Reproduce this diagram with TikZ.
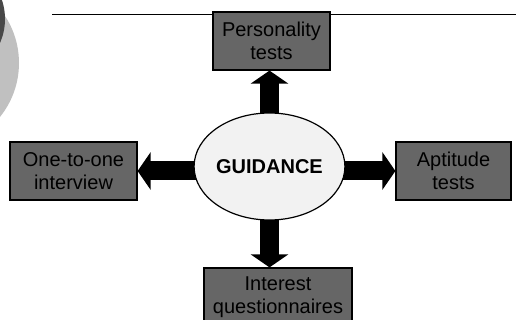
\documentclass[tikz,border=0pt]{standalone}
\usepackage{fontspec}
\setmainfont{Liberation Sans}
\usetikzlibrary{arrows.meta}
\usetikzlibrary{shapes.geometric}
\definecolor{boxgray}{RGB}{102,102,102}
\definecolor{hubfill}{RGB}{242,242,242}
\definecolor{decodark}{RGB}{72,72,72}
\definecolor{decolight}{RGB}{192,192,192}
\pgfdeclarelayer{back}
\pgfsetlayers{back,main}
\tikzset{
  choice/.style={draw=black, line width=1.2pt, fill=boxgray, align=center,
    inner sep=1pt, minimum height=58pt, font=\fontsize{20}{23}\selectfont},
  guide/.style={ellipse, draw=black, line width=1.2pt, fill=hubfill,
    minimum width=139pt, minimum height=107pt, inner sep=0pt,
    font=\fontsize{20}{23}\selectfont\bfseries},
  fat/.style={line width=19pt, -{Triangle[length=13pt,width=37pt]}}
}
\newcommand{\fatarrow}[2]{\draw[fat] (#1) -- (#2);}

\begin{document}
\begin{tikzpicture}[x=1pt,y=-1pt]
\useasboundingbox (0,0) rectangle (516,320);
% centre of the diagram
\node[guide] (guid) at (269.5,166.5) {GUIDANCE};
% the four ways
\node[choice, minimum width=117pt] (pers) at (271.5,41) {Personality\\tests};
\node[choice, minimum width=127pt] (one) at (73.5,171) {One-to-one\\interview};
\node[choice, minimum width=115pt] (apt) at (453.5,171) {Aptitude\\tests};
\node[choice, minimum width=148pt] (intr) at (278,297) {Interest\\questionnaires};
\begin{pgfonlayer}{back}
% slide decoration
\fill[decolight] (-67,63) circle (86);
\fill[decodark] (-55,19) circle (60);
\draw[line width=1pt] (52,15) -- (516,15);
% arrows out of the centre
\fatarrow{guid.center}{guid.center |- pers.south}
\fatarrow{guid.center}{guid.center |- intr.north}
\fatarrow{guid.center |- one.east}{one.east}
\fatarrow{guid.center |- apt.west}{apt.west}
\end{pgfonlayer}
\end{tikzpicture}
\end{document}
